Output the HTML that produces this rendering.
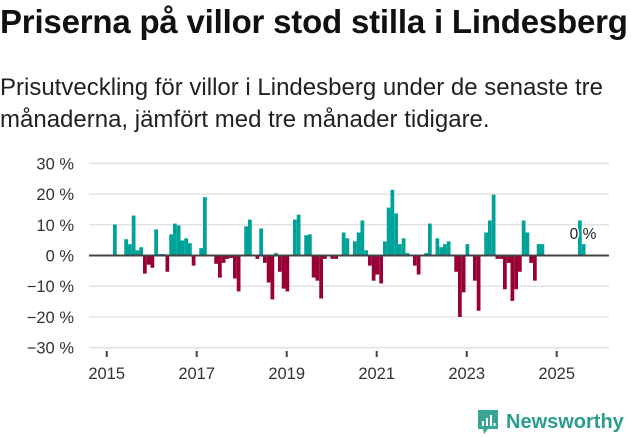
<!DOCTYPE html>
<html><head><meta charset="utf-8"><style>
body{margin:0;width:631px;height:439px;background:#fff;font-family:"Liberation Sans",sans-serif;overflow:hidden;position:relative}
#title{position:absolute;left:0;top:3px;font-size:33px;font-weight:bold;color:#111;white-space:nowrap;letter-spacing:-0.2px}
#sub{position:absolute;left:0;top:72px;font-size:24px;line-height:32px;color:#222;width:625px}
svg{position:absolute;left:0;top:0}
#logo{position:absolute;left:476px;top:408px;display:flex;align-items:center}
#logo span{font-size:20px;font-weight:bold;color:#2a9d8f;margin-left:6px}
</style></head><body>
<div id="title">Priserna på villor stod stilla i Lindesberg</div>
<div id="sub">Prisutveckling för villor i Lindesberg under de senaste tre månaderna, jämfört med tre månader tidigare.</div>
<svg id="chart" width="631" height="439"></svg>
<div id="logo">
<svg style="position:static" width="24" height="28" viewBox="0 0 24 28"><path d="M2 2h20v19H12l-4 5-1-5H2z" fill="#3aa594"/><rect x="6" y="13" width="2" height="5" fill="#fff"/><rect x="10" y="10" width="2" height="8" fill="#fff"/><rect x="14" y="7" width="2" height="11" fill="#fff"/><rect x="17.5" y="15" width="2" height="3" fill="#fff"/></svg>
<span>Newsworthy</span></div>
<script>
const yTicks=[30,20,10,0,-10,-20,-30];
const xYears=[2015,2017,2019,2021,2023,2025];
const startYear=2015;
const values=[null,null,10.1,null,null,5.3,3.7,13,1.7,2.7,-5.9,-3,-4,8.5,0.5,0.5,-5.3,6.9,10.4,9.8,4.9,5.6,4,-3.3,null,2.4,19,null,null,-2.7,-7.2,-2.4,-1.1,-0.8,-7.5,-11.7,null,9.5,11.7,null,-1.1,8.8,-2.4,-8.8,-14.3,0.8,-5.3,-10.8,-11.7,null,11.7,13.3,null,6.6,6.9,-7.2,-8.2,-14,-1.1,null,-1.1,-1.1,null,7.5,5.6,null,4.6,7.5,11.4,1.7,-3.3,-8.2,-6.2,-9.1,4.6,15.6,21.4,13.7,3.7,5.6,0.8,null,-3.3,-6.2,null,0.8,10.4,null,5.6,2.7,3.7,4.6,null,-5.3,-20,-12,3.7,null,-8.2,-18,null,7.5,11.4,19.8,-1.1,-1.1,-11,-2.4,-14.8,-11,-5.3,11.4,7.5,-2.4,-8.2,3.7,3.7,null,null,null,null,null,null,null,null,null,11.4,3.7];
const lastLabel="0 %";
const NS="http://www.w3.org/2000/svg";
const svg=document.getElementById('chart');
const y=v=>255.5-v*3.07;
const x=m=>106.7+m*3.75;
function mk(t,a){const e=document.createElementNS(NS,t);for(const k in a)e.setAttribute(k,a[k]);svg.appendChild(e);return e;}
yTicks.forEach(v=>{
 if(v!==0){const g=mk('line',{x1:89,x2:609,y1:y(v),y2:y(v),stroke:'#e3e3e3','stroke-width':1.5});
 
 }
 const t=mk('text',{x:74,y:y(v)+6,'text-anchor':'end','font-size':16.5,fill:'#333','font-family':'Liberation Sans, sans-serif'});
 t.textContent=(v<0?'\u2212'+(-v):v)+' %';
 
 
});
values.forEach((v,i)=>{
 if(v===null)return;
 const r=mk('rect',{x:x(i)-1.2,width:3.75,y:Math.min(y(v),y(0)),height:Math.abs(y(v)-y(0)),fill:v>=0?'#00a397':'#990038'});
 
 
});
const z=mk('line',{x1:89,x2:609,y1:y(0),y2:y(0),stroke:'#444','stroke-width':2});


xYears.forEach(yr=>{
 const px=x((yr-startYear)*12);
 const tk=mk('line',{x1:px,x2:px,y1:351,y2:357,stroke:'#444','stroke-width':2});
 
 
 const t=mk('text',{x:px,y:379,'text-anchor':'middle','font-size':16.5,fill:'#333','font-family':'Liberation Sans, sans-serif'});
 t.textContent=yr;
 
 
});
const lab=mk('text',{x:583,y:239,'text-anchor':'middle','font-size':15.5,fill:'#222','font-family':'Liberation Sans, sans-serif',stroke:'#fff','stroke-width':3,'paint-order':'stroke'});
lab.textContent=lastLabel;


</script>
</body></html>
